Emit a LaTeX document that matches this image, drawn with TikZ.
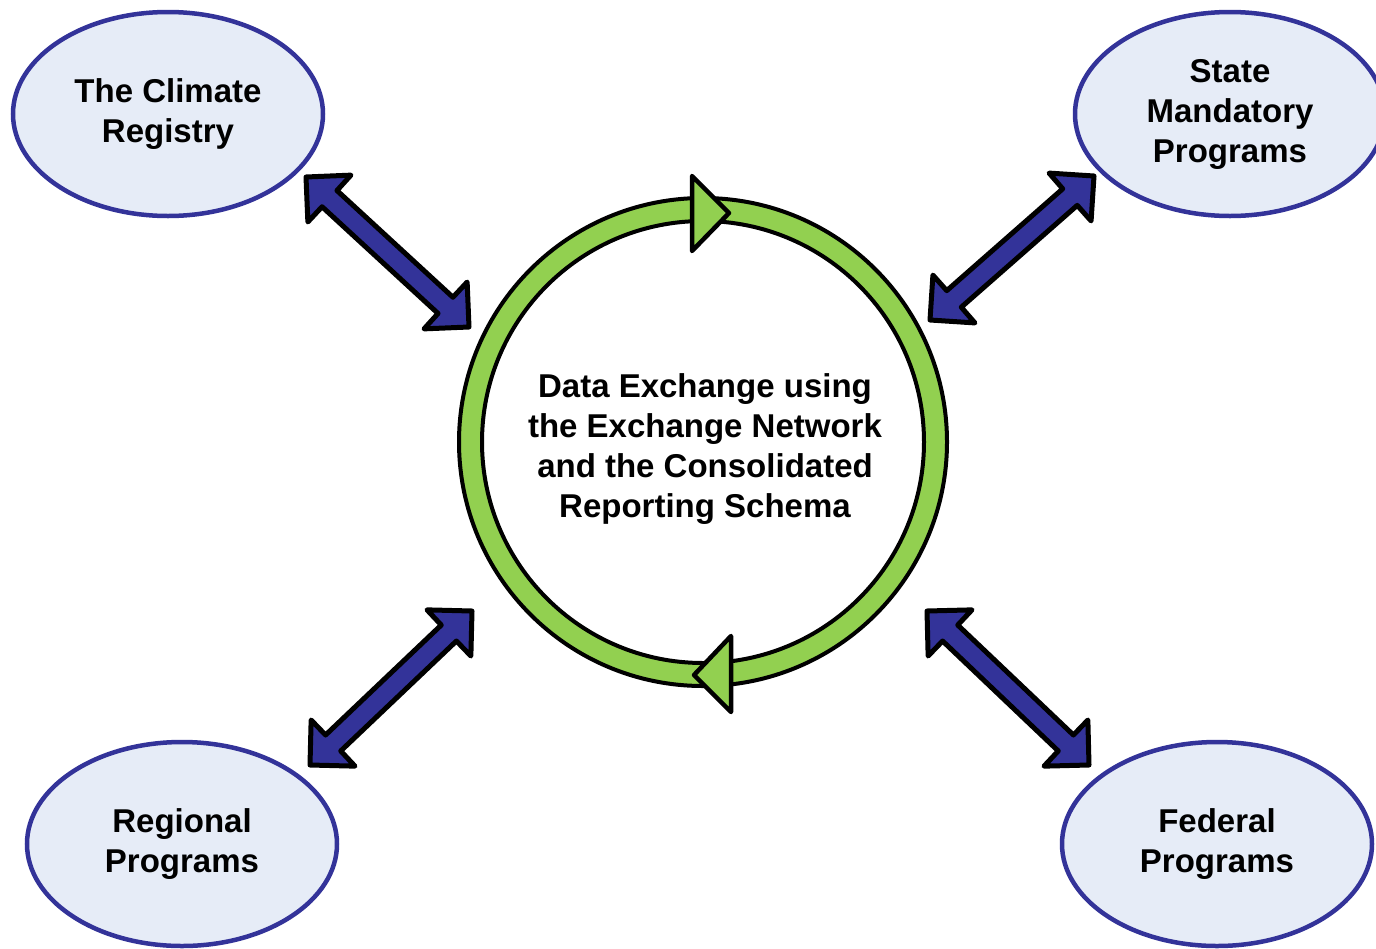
\documentclass[tikz,border=0pt]{standalone}
\usepackage{fontspec}
\setmainfont{Liberation Sans}
\usetikzlibrary{shapes.geometric,calc}
\definecolor{elfill}{HTML}{E6ECF7}
\definecolor{elline}{HTML}{333399}
\definecolor{arrfill}{HTML}{333399}
\definecolor{ringgreen}{HTML}{92D050}
\tikzset{
  party/.style={ellipse, draw=elline, fill=elfill, line width=4.5pt,
    minimum width=310pt, minimum height=204pt, inner sep=0pt,
    align=center, font=\fontsize{33}{40}\selectfont\bfseries},
  hubtext/.style={align=center, font=\fontsize{33}{40}\selectfont\bfseries},
  blockarr/.style={fill=arrfill, draw=black, line width=5pt, line join=round},
  ringband/.style={fill=ringgreen, draw=black, line width=4pt, even odd rule},
  ringhead/.style={fill=ringgreen, draw=black, line width=4.5pt, line join=round}
}
\newcommand{\bkarrow}[2]{%
  \draw[blockarr] (#1)
    -- ($(#1)!45pt!45:(#2)$)
    -- ($(#1)!33.8pt!19:(#2)$)
    -- ($(#2)!33.8pt!-19:(#1)$)
    -- ($(#2)!45pt!-45:(#1)$)
    -- (#2)
    -- ($(#2)!45pt!45:(#1)$)
    -- ($(#2)!33.8pt!19:(#1)$)
    -- ($(#1)!33.8pt!-19:(#2)$)
    -- ($(#1)!45pt!-45:(#2)$)
    -- cycle;}
\begin{document}
\begin{tikzpicture}[x=1pt,y=-1pt]
\useasboundingbox (0,0) rectangle (1376,948);
% parties
\node[party] (tcr) at (168,114) {The Climate\\Registry};
\node[party] (smp) at (1230,114) {State\\Mandatory\\Programs};
\node[party] (rp) at (182,844) {Regional\\Programs};
\node[party] (fp) at (1217,844) {Federal\\Programs};
% hub
\coordinate (hub) at (703,442);
\node[hubtext] (hubt) at (705,449) {Data Exchange using\\the Exchange Network\\and the Consolidated\\Reporting Schema};
% arrow end points
\coordinate (a1) at (306,177); \coordinate (b1) at (469,327);
\coordinate (a2) at (1094,176); \coordinate (b2) at (930,320);
\coordinate (a3) at (472,611); \coordinate (b3) at (310,765);
\coordinate (a4) at (927,611); \coordinate (b4) at (1089,765);
\bkarrow{a1}{b1}
\bkarrow{a2}{b2}
\bkarrow{a3}{b3}
\bkarrow{a4}{b4}
% ring
\draw[ringband] (hub) circle[radius=244pt] (hub) circle[radius=221pt];
\draw[ringhead] (692,176) -- (729,213) -- (692,251) -- cycle;
\draw[ringhead] (731,636) -- (694,675) -- (731,712) -- cycle;
\end{tikzpicture}
\end{document}
